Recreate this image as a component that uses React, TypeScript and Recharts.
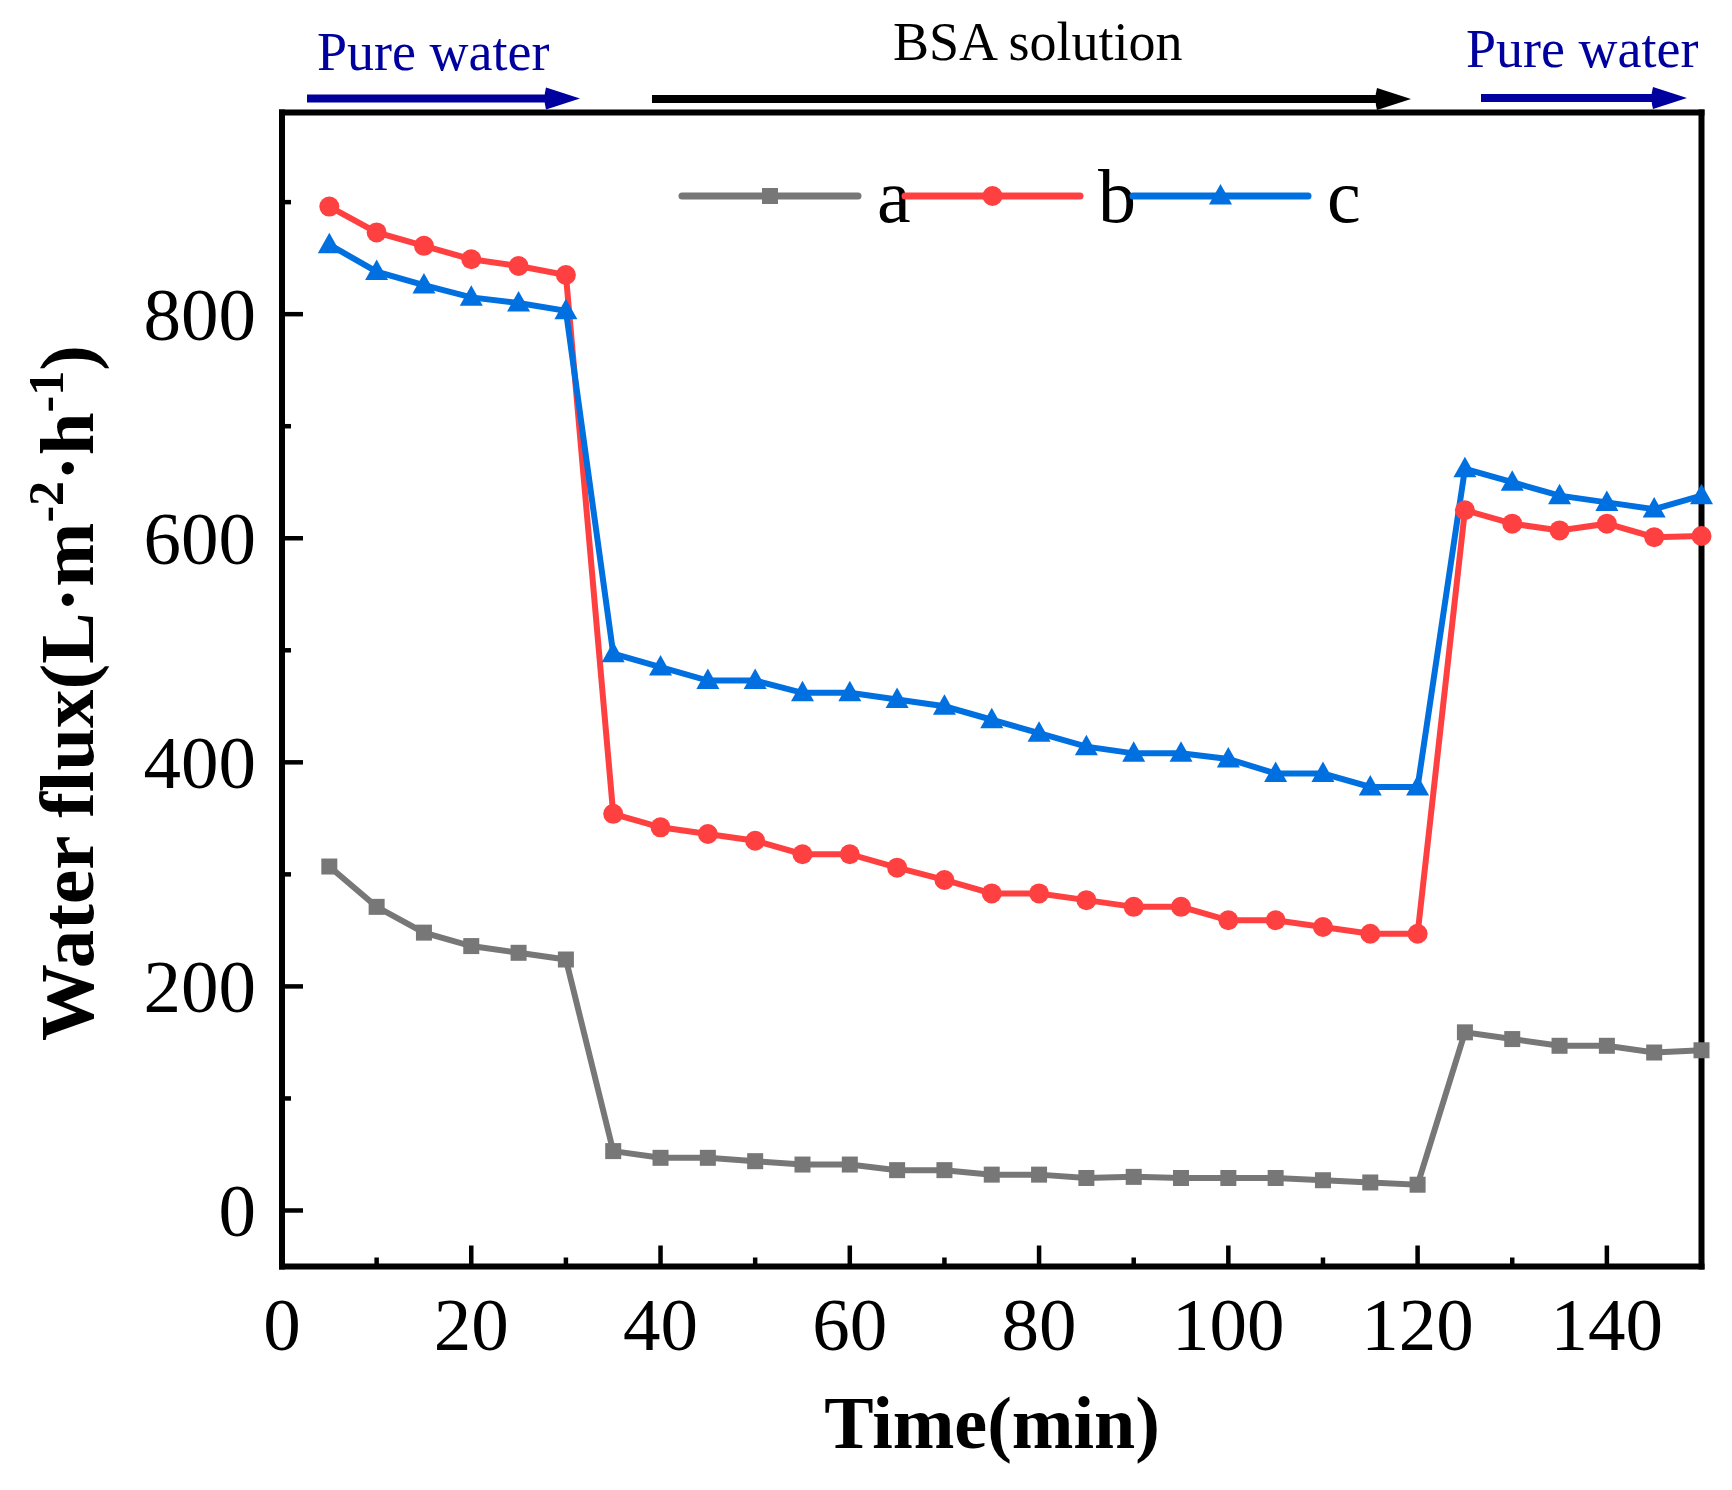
import React from 'react';
import { LineChart, Line, XAxis, YAxis, Legend, ReferenceLine } from 'recharts';

// ---- data ----
const time = [5, 10, 15, 20, 25, 30, 35, 40, 45, 50, 55, 60, 65, 70, 75, 80, 85, 90, 95, 100, 105, 110, 115, 120, 125, 130, 135, 140, 145, 150];
const seriesA = [307, 271, 248, 236, 230, 224, 53, 47, 47, 44, 41, 41, 36, 36, 32, 32, 29, 30, 29, 29, 29, 27, 25, 23, 159, 153, 147, 147, 141, 143];
const seriesB = [896, 873, 861, 849, 843, 835, 354, 342, 336, 330, 318, 318, 306, 295, 283, 283, 277, 271, 271, 259, 259, 253, 247, 247, 625, 613, 607, 613, 601, 602];
const seriesC = [862, 838, 826, 815, 810, 803, 497, 485, 473, 473, 462, 462, 456, 450, 438, 426, 414, 408, 408, 403, 390, 390, 378, 378, 662, 650, 638, 632, 626, 638];
const seriesNames = ['a', 'b', 'c'];
const xTicks = [0, 10, 20, 30, 40, 50, 60, 70, 80, 90, 100, 110, 120, 130, 140];
const yTicks = [0, 100, 200, 300, 400, 500, 600, 700, 800, 900];
const xMajorStep = 20;
const yMajorStep = 200;
const xDomain = [0, 150];
const yDomain = [-50, 980];
const phaseLabels = ['Pure water', 'BSA solution', 'Pure water'];
const xTitle = 'Time(min)';

const data = time.map((t, i) => ({ t, a: seriesA[i], b: seriesB[i], c: seriesC[i] }));

// ---- styles ----
const FONT = "'Liberation Serif', 'Times New Roman', serif";
const GRAY = '#777777';
const RED = '#FF4040';
const BLUE = '#0070E0';
const NAVY = '#00009E';
const colors = [GRAY, RED, BLUE];

const W = 1732;
const H = 1490;
const LINE_W = 6;

const Square = ({ cx, cy, color, size = 16 }: any) => (
  <rect x={cx - size / 2} y={cy - size / 2} width={size} height={size} fill={color} />
);
const Circle = ({ cx, cy, color, r = 10 }: any) => <circle cx={cx} cy={cy} r={r} fill={color} />;
const Triangle = ({ cx, cy, color }: any) => (
  <path d={`M${cx},${cy - 12} L${cx + 11.5},${cy + 8.5} L${cx - 11.5},${cy + 8.5} Z`} fill={color} />
);
const shapes = [Square, Circle, Triangle];

const makeDot = (idx: number) => (props: any) => {
  const Shape = shapes[idx];
  if (props.cx == null || props.cy == null) return <g key={`d${idx}-${props.index}`} />;
  return (
    <g key={`d${idx}-${props.index}`}>
      <Shape cx={props.cx} cy={props.cy} color={colors[idx]} />
    </g>
  );
};

const XTick = (props: any) => {
  const { x, y, payload } = props;
  const v = payload.value;
  const major = v % xMajorStep === 0;
  return (
    <g>
      <line x1={x} x2={x} y1={y} y2={y - (major ? 21 : 9)} stroke="#000" strokeWidth={4.5} />
      {major && (
        <text x={x} y={y + 30.5} dy="0.71em" textAnchor="middle" fontSize={75} fontFamily={FONT} fill="#000">
          {v}
        </text>
      )}
    </g>
  );
};

const YTick = (props: any) => {
  const { x, y, payload } = props;
  const v = payload.value;
  const major = v % yMajorStep === 0;
  return (
    <g>
      <line x1={x} x2={x + (major ? 21 : 9)} y1={y} y2={y} stroke="#000" strokeWidth={4.5} />
      {major && (
        <text x={x - 26} y={y} dy="0.34em" textAnchor="end" fontSize={75} fontFamily={FONT} fill="#000">
          {v}
        </text>
      )}
    </g>
  );
};

const legendItems = [
  { x1: 682, x2: 858, tx: 877 },
  { x1: 905, x2: 1080, tx: 1098 },
  { x1: 1133, x2: 1308, tx: 1327 },
];

const LegendContent = () => (
  <svg width={1} height={1} style={{ position: 'absolute', left: 0, top: 0, overflow: 'visible' }}>
    {legendItems.map((it, i) => {
      const Shape = shapes[i];
      const cx = (it.x1 + it.x2) / 2;
      return (
        <g key={i}>
          <line x1={it.x1} x2={it.x2} y1={196} y2={196} stroke={colors[i]} strokeWidth={7} strokeLinecap="round" />
          <Shape cx={cx} cy={196} color={colors[i]} />
          <text x={it.tx} y={222} fontSize={76} fontFamily={FONT} fill="#000">
            {seriesNames[i]}
          </text>
        </g>
      );
    })}
  </svg>
);

const Arrow = ({ x1, x2, y, color }: any) => (
  <g>
    <line x1={x1} x2={x2 - 28} y1={y} y2={y} stroke={color} strokeWidth={8} />
    <path d={`M${x2 - 34},${y - 11} L${x2},${y} L${x2 - 34},${y + 11} Q${x2 - 37},${y} ${x2 - 34},${y - 11} Z`} fill={color} />
  </g>
);

const Overlay = () => (
  <svg width={W} height={H} style={{ position: 'absolute', left: 0, top: 0, pointerEvents: 'none' }}>
    <text x={317} y={70} fontSize={54} fontFamily={FONT} fill={NAVY}>{phaseLabels[0]}</text>
    <text x={893} y={60} fontSize={54} fontFamily={FONT} fill="#000">{phaseLabels[1]}</text>
    <text x={1466} y={67} fontSize={54} fontFamily={FONT} fill={NAVY}>{phaseLabels[2]}</text>
    <Arrow x1={307} x2={580} y={98.5} color={NAVY} />
    <Arrow x1={652} x2={1411} y={99} color="#000" />
    <Arrow x1={1481} x2={1687} y={98} color={NAVY} />
    <text x={992} y={1448} textAnchor="middle" fontSize={74} fontWeight="bold" fontFamily={FONT} fill="#000">
      {xTitle}
    </text>
    <text
      transform="translate(93,693) rotate(-90)"
      textAnchor="middle"
      fontSize={77}
      fontWeight="bold"
      fontFamily={FONT}
      fill="#000"
    >
      Water flux(L·m
      <tspan dy={-30} fontSize={50}>-2</tspan>
      <tspan dy={30}>·h</tspan>
      <tspan dy={-30} fontSize={50}>-1</tspan>
      <tspan dy={30}>)</tspan>
    </text>
  </svg>
);

const frameLine = { stroke: '#000', strokeWidth: 6, strokeLinecap: 'square' as const };

export default function App() {
  return (
    <div style={{ position: 'absolute', left: 0, top: 0, width: W, height: H, background: '#fff' }}>
      <LineChart width={W} height={H} data={data} margin={{ top: 112.5, right: 30.5, bottom: 123.5, left: 0 }}>
        <XAxis
          dataKey="t"
          type="number"
          domain={xDomain}
          ticks={xTicks}
          interval={0}
          height={100}
          tickSize={0}
          tickMargin={0}
          tickLine={false}
          axisLine={frameLine}
          tick={<XTick />}
        />
        <YAxis
          type="number"
          domain={yDomain}
          ticks={yTicks}
          interval={0}
          width={282}
          tickSize={0}
          tickMargin={0}
          tickLine={false}
          axisLine={frameLine}
          tick={<YTick />}
        />
        <ReferenceLine y={yDomain[1]} stroke="#000" strokeWidth={6} strokeLinecap="square" ifOverflow="visible" />
        <ReferenceLine x={xDomain[1]} stroke="#000" strokeWidth={6} strokeLinecap="square" ifOverflow="visible" />
        <Legend layout="vertical" align="center" verticalAlign="middle" wrapperStyle={{ left: 0, top: 0, width: 0, height: 0 }} content={() => <LegendContent />} />
        <Line type="linear" dataKey="a" name="a" stroke={GRAY} strokeWidth={LINE_W} dot={makeDot(0)} activeDot={false} isAnimationActive={false} />
        <Line type="linear" dataKey="b" name="b" stroke={RED} strokeWidth={LINE_W} dot={makeDot(1)} activeDot={false} isAnimationActive={false} />
        <Line type="linear" dataKey="c" name="c" stroke={BLUE} strokeWidth={LINE_W} dot={makeDot(2)} activeDot={false} isAnimationActive={false} />
      </LineChart>
      <Overlay />
    </div>
  );
}
